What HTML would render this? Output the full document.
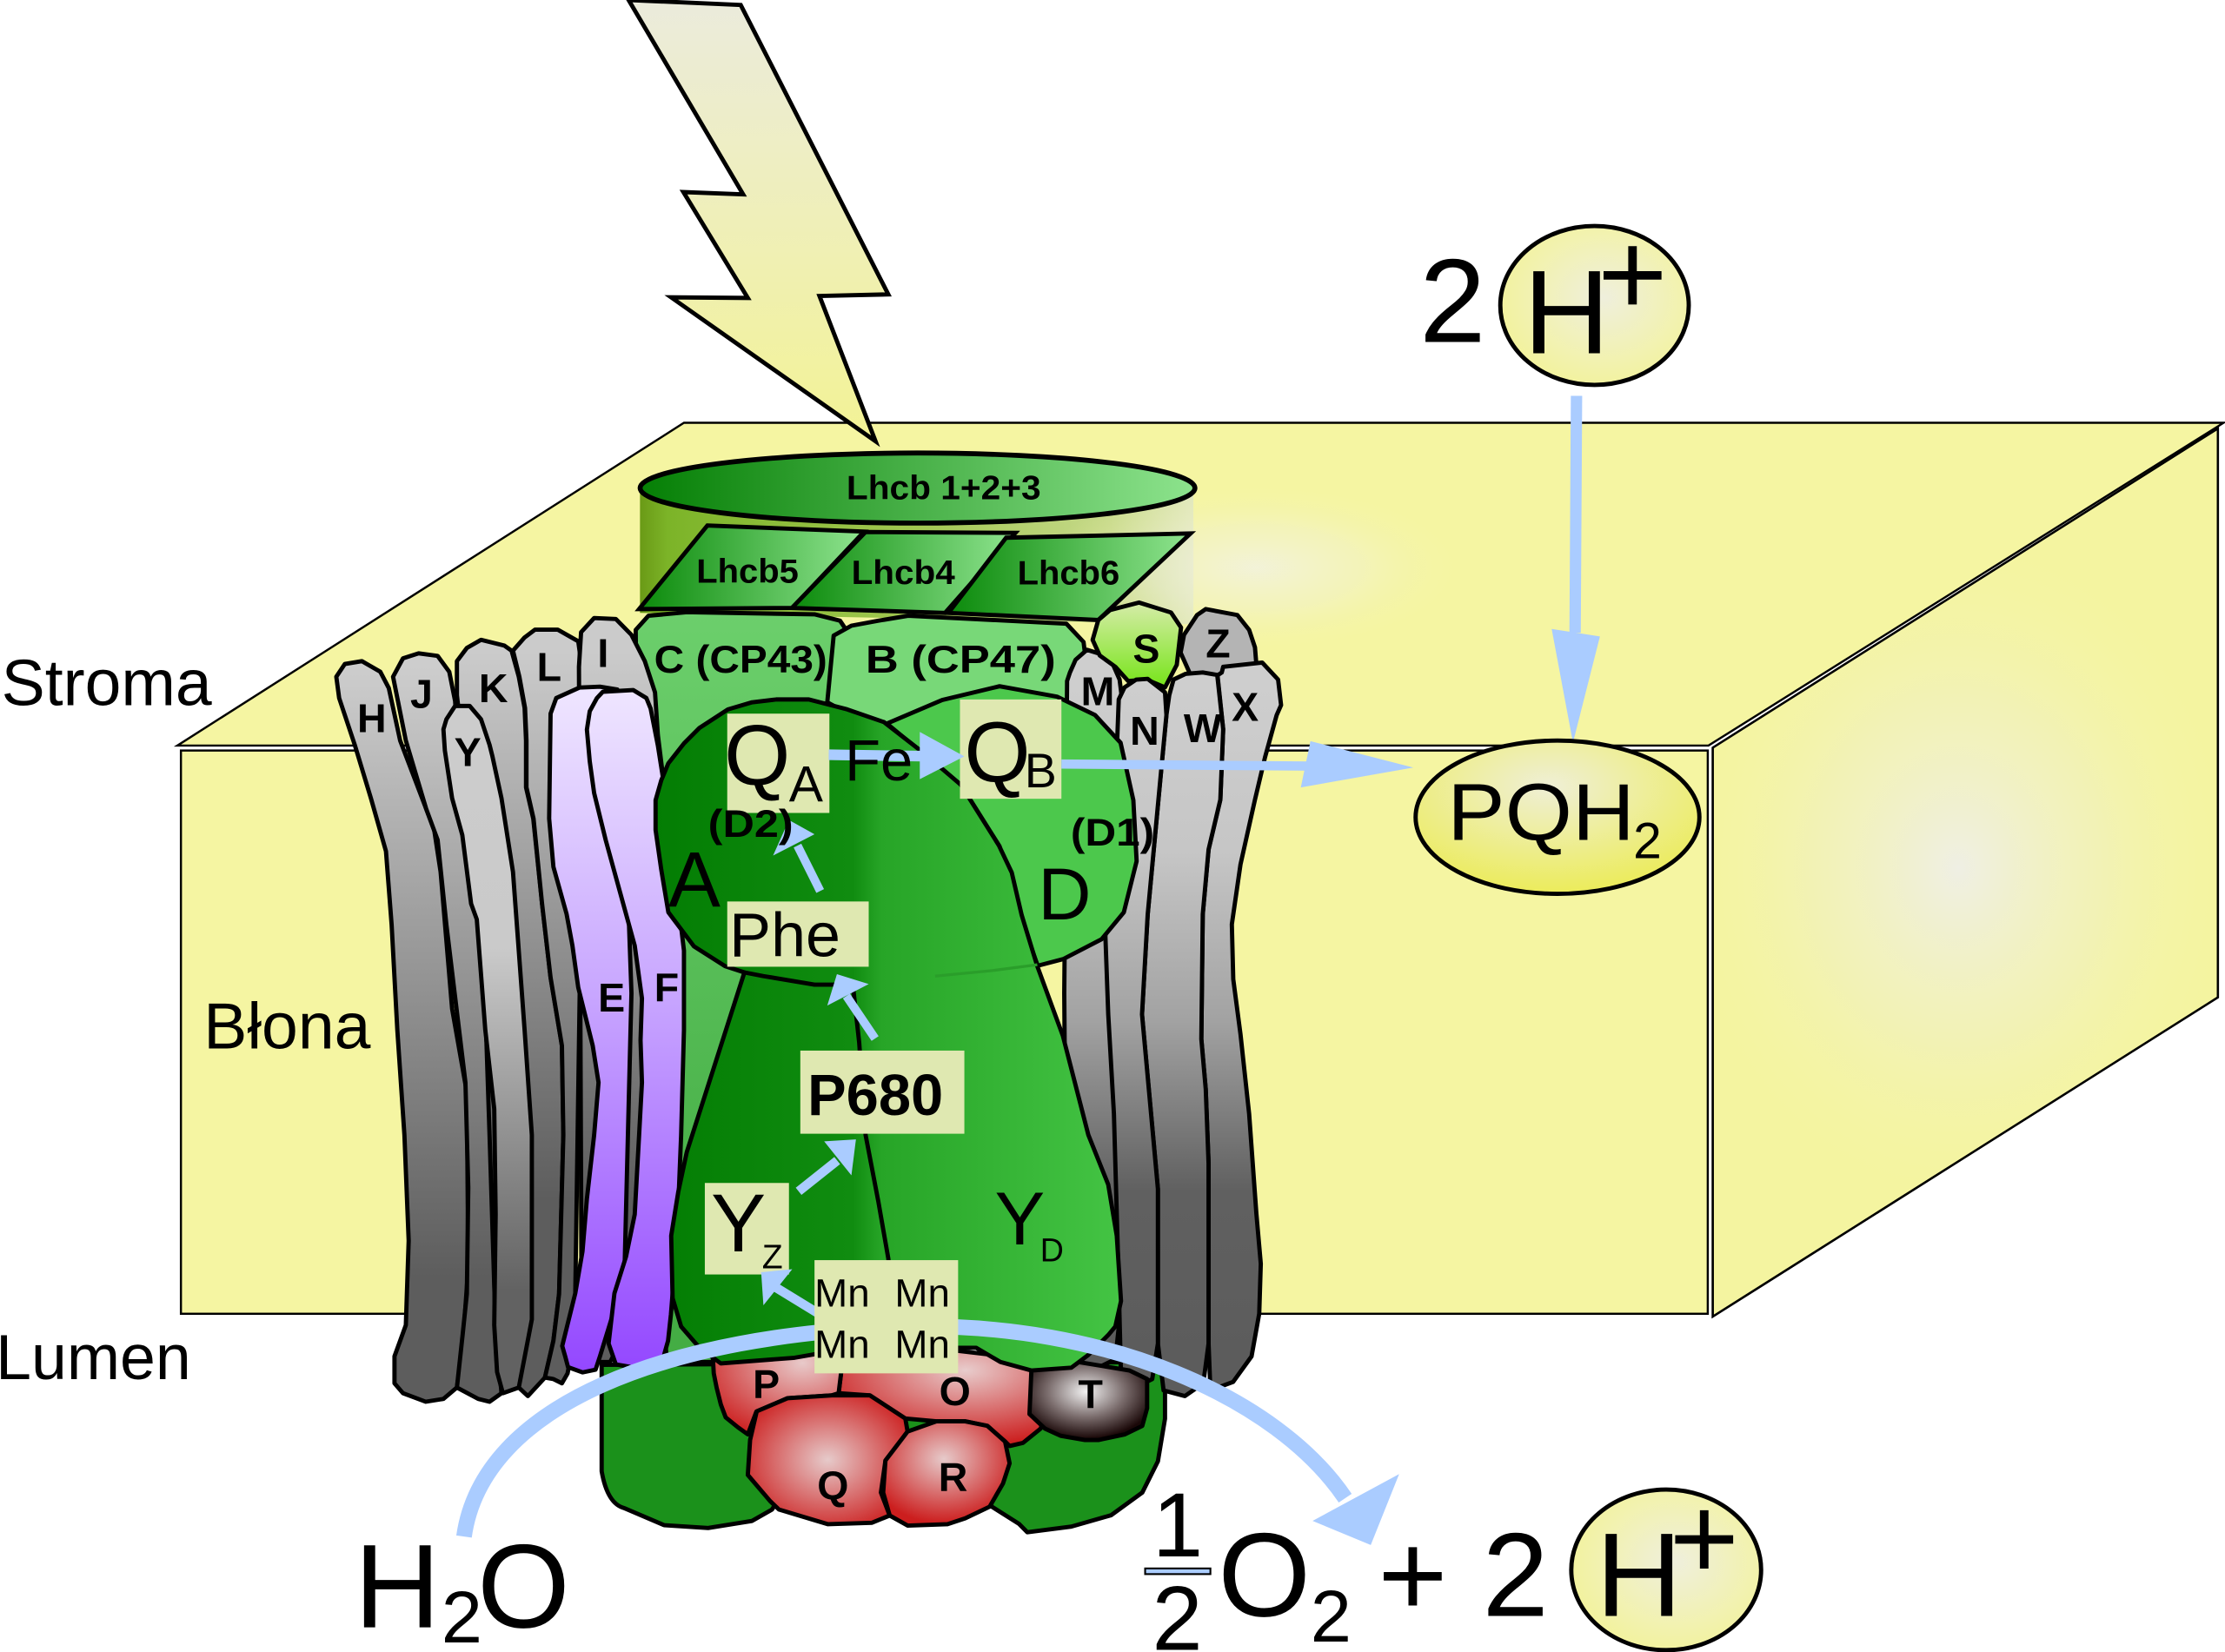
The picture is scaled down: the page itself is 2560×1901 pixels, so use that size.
<!DOCTYPE html>
<html><head><meta charset="utf-8"><style>html,body{margin:0;padding:0;background:#fff;overflow:hidden}svg{display:block}</style></head>
<body>
<svg xmlns="http://www.w3.org/2000/svg" width="2560" height="1901" viewBox="0 0 1568 1164.4" preserveAspectRatio="none" font-family="'Liberation Sans', Arial, sans-serif">
<defs>
<linearGradient id="bolt" x1="0" y1="0" x2="0" y2="1"><stop offset="0" stop-color="#ebebdc"/><stop offset="1" stop-color="#f3f395"/></linearGradient>
<radialGradient id="glowW"><stop offset="0" stop-color="#efefe4" stop-opacity="1"/><stop offset="0.5" stop-color="#f1f1c4" stop-opacity="0.6"/><stop offset="1" stop-color="#f4f4a2" stop-opacity="0"/></radialGradient>
<radialGradient id="haze"><stop offset="0" stop-color="#f2f2e6" stop-opacity="0.8"/><stop offset="0.5" stop-color="#f1f1d4" stop-opacity="0.45"/><stop offset="1" stop-color="#f5f5a2" stop-opacity="0"/></radialGradient>
<linearGradient id="cyl" x1="451" y1="0" x2="841" y2="0" gradientUnits="userSpaceOnUse"><stop offset="0" stop-color="#6a9a16"/><stop offset="0.05" stop-color="#7cb428"/><stop offset="0.5" stop-color="#a2c752"/><stop offset="0.85" stop-color="#c6d98a"/><stop offset="1" stop-color="#e0e7c0"/></linearGradient>
<linearGradient id="ell" x1="0" y1="0" x2="1" y2="0"><stop offset="0" stop-color="#057f05"/><stop offset="1" stop-color="#8de38d"/></linearGradient>
<linearGradient id="para" x1="0" y1="0" x2="1" y2="0"><stop offset="0" stop-color="#0b8a0b"/><stop offset="1" stop-color="#8fe48f"/></linearGradient>
<linearGradient id="gA" x1="0" y1="470" x2="0" y2="900" gradientUnits="userSpaceOnUse"><stop offset="0" stop-color="#cdcdcd"/><stop offset="1" stop-color="#5d5d5d"/></linearGradient>
<linearGradient id="gB" x1="0" y1="460" x2="0" y2="845" gradientUnits="userSpaceOnUse"><stop offset="0" stop-color="#cbcbcb"/><stop offset="1" stop-color="#5d5d5d"/></linearGradient>
<linearGradient id="gY" x1="0" y1="470" x2="0" y2="910" gradientUnits="userSpaceOnUse"><stop offset="0" stop-color="#cdcdcd"/><stop offset="0.45" stop-color="#cacaca"/><stop offset="1" stop-color="#626262"/></linearGradient>
<linearGradient id="gR" x1="0" y1="480" x2="0" y2="960" gradientUnits="userSpaceOnUse"><stop offset="0" stop-color="#cecece"/><stop offset="0.25" stop-color="#c6c6c6"/><stop offset="0.5" stop-color="#a2a2a2"/><stop offset="0.75" stop-color="#606060"/><stop offset="1" stop-color="#5c5c5c"/></linearGradient>
<linearGradient id="purp" x1="0" y1="485" x2="0" y2="965" gradientUnits="userSpaceOnUse"><stop offset="0" stop-color="#efe6ff"/><stop offset="0.45" stop-color="#c8a6ff"/><stop offset="1" stop-color="#9448ff"/></linearGradient>
<linearGradient id="sG" x1="0" y1="425" x2="0" y2="487" gradientUnits="userSpaceOnUse"><stop offset="0" stop-color="#d6eca8"/><stop offset="1" stop-color="#72e412"/></linearGradient>
<linearGradient id="cG" x1="0" y1="430" x2="0" y2="900" gradientUnits="userSpaceOnUse"><stop offset="0" stop-color="#6ccf6c"/><stop offset="1" stop-color="#44ad44"/></linearGradient>
<linearGradient id="core" x1="462" y1="0" x2="801" y2="0" gradientUnits="userSpaceOnUse"><stop offset="0" stop-color="#037d03"/><stop offset="0.41" stop-color="#108c10"/><stop offset="0.47" stop-color="#27a527"/><stop offset="1" stop-color="#46c646"/></linearGradient>
<radialGradient id="rP" cx="0.7" cy="0.2" r="0.9"><stop offset="0" stop-color="#e8caca"/><stop offset="1" stop-color="#cc1e1e"/></radialGradient>
<radialGradient id="rO" cx="0.6" cy="0.25" r="0.75"><stop offset="0" stop-color="#e8cccc"/><stop offset="1" stop-color="#cc1e1e"/></radialGradient>
<radialGradient id="rQ" cx="0.5" cy="0.5" r="0.6"><stop offset="0" stop-color="#e6caca"/><stop offset="1" stop-color="#cc1e1e"/></radialGradient>
<radialGradient id="rR" cx="0.48" cy="0.36" r="0.62"><stop offset="0" stop-color="#e6caca"/><stop offset="1" stop-color="#cc1e1e"/></radialGradient>
<radialGradient id="rT" cx="0.48" cy="0.38" r="0.6"><stop offset="0" stop-color="#f2f2f2"/><stop offset="0.55" stop-color="#7a6c6c"/><stop offset="1" stop-color="#1a0808"/></radialGradient>
<radialGradient id="pq" cx="0.47" cy="0.3" r="0.7"><stop offset="0" stop-color="#efefd6"/><stop offset="1" stop-color="#ecec5a"/></radialGradient>
<radialGradient id="hp" cx="0.55" cy="0.45" r="0.6"><stop offset="0" stop-color="#efefdc"/><stop offset="1" stop-color="#f3f39a"/></radialGradient>
<clipPath id="rf"><polygon points="1207,527 1563,302 1563,703 1207,928"/></clipPath>
</defs>
<rect x="0" y="0" width="1568" height="1165" fill="#fff"/>

<!-- membrane box -->
<polygon points="125,525.5 482,298 1567,298 1204,525.5" fill="#f5f5a2" stroke="#000" stroke-width="1.5"/>
<polygon points="1207,527 1563,302 1563,703 1207,928" fill="#f4f4a0" stroke="#000" stroke-width="1.5"/>
<ellipse cx="1380" cy="612" rx="200" ry="240" fill="url(#glowW)" clip-path="url(#rf)"/>
<polygon points="1207,527 1563,302 1563,703 1207,928" fill="none" stroke="#000" stroke-width="1.5"/>
<rect x="127.5" y="529" width="1076" height="397" fill="#f5f5a2" stroke="#000" stroke-width="1.5"/>

<!-- lightning -->
<polygon points="443,0 523.7,137 481.6,135.4 527,210 473,209.6 617,311 577.5,208.6 626,207.5 522,3.5" fill="url(#bolt)" stroke="#000" stroke-width="3" stroke-linejoin="miter"/>

<!-- Lhcb cylinder body -->
<polygon points="451,344 451,432 841,440 841,344" fill="url(#cyl)"/>
<ellipse cx="885" cy="400" rx="150" ry="60" fill="url(#haze)"/>

<!-- C (CP43) and B (CP47) -->
<path d="M448,444 L457,434 L484,431.5 L574,433 L592,437.5 L599,448 L603,500 L605,700 L600,960 L470,960 L450,700 Z" fill="url(#cG)" stroke="#000" stroke-width="3" stroke-linejoin="round"/>
<path d="M583,495 L587.5,448 L600,441 L619,437.5 L640,434 L751.5,439.6 L763.6,452.5 L767,480 L768,520 L700,520 L620,515 Z" fill="#78d878" stroke="#000" stroke-width="3" stroke-linejoin="round"/>

<!-- lumen green -->
<path d="M424,962 L424,1037 Q428,1060 440,1063 L468,1075 L499,1077 L530,1072 L544,1064 L560,1040 L690,1040 L699,1062 L718,1074 L724,1080 L755,1076 L783,1068 L805,1052 L816,1030 L821,1000 L821,960 Z" fill="#1b911b" stroke="#000" stroke-width="3" stroke-linejoin="round"/>

<!-- left helices -->
<g stroke="#000" stroke-width="3" stroke-linejoin="round">
<path d="M237,477 L243,468 L255,466 L268,473.5 L274,485 L282,522 L306,585 L310.5,614.5 L318.6,711 L329,770 L330,893 L326,949 L322,978 L312.5,986 L300,988 L284,982 L278,975 L278,956 L286,934 L288,874.5 L285,800 L280,726 L276,652 L272,600 L261.5,563 L250,525 L239,492 Z" fill="url(#gA)"/>
<path d="M277,477 L284,464 L295,460.5 L308.4,462.3 L316.6,473.5 L320.7,494 L327,585 L337,652 L345,763 L349,930 L353.4,982 L345,988 L337,986 L322,978 L326,941 L329,912 L330,837 L328,763 L314.6,652 L308.4,592 L300.3,570 L286,522 Z" fill="url(#gA)"/>
<path d="M322,466 L329,456.7 L339,451 L355.4,455 L360.5,458.6 L365.6,477 L369.7,499 L370.7,522 L370.7,555 L375.8,577 L382,637 L388,689 L396,737 L397,800 L394,912 L390,945 L384,971 L372,984 L365.6,978 L355,980 L350,960 L345,800 L340,650 L330,560 L322,490 Z" fill="url(#gB)"/>
<path d="M361.5,458.6 L369.7,449.3 L377,443.8 L393,443.8 L407.5,452 L410,470 L410,600 L405,940 L400,968 L396,975 L390,972 L384,971 L390,945 L394,912 L397,800 L396,737 L388,689 L382,637 L376,577 L371,555 L371,522 L370,499 L366,477 Z" fill="url(#gB)"/>
<path d="M409.5,445.6 L418.7,435.6 L434,436.3 L445,447.5 L454.4,466 L461.6,488 L463.6,518 L467.7,551 L470,700 L460,900 L430,960 L410,960 L408,470 Z" fill="url(#gB)"/>
<path d="M312.5,514 L314.6,507 L320.7,497.6 L331,497.6 L339,507 L345,525 L347,533 L353.4,562.6 L361.5,614.5 L369.7,726 L374.8,800 L374.8,930 L365.6,978 L354.4,982 L350.3,967 L348.3,934 L349.3,856 L348.3,781.6 L342,726 L336,648 L332,637 L325.8,588.6 L318.6,562.6 L313.5,529 Z" fill="url(#gY)"/>
<path d="M388,503 L392,492 L408.5,484.6 L422.8,484 L435,486 L440,560 L445,700 L440,900 L422.8,956 L419.7,965.4 L410.5,967.3 L400.3,963.6 L398.3,956 L396.2,948.7 L405.4,911.6 L410.5,882 L413.6,845 L418.7,800 L421.8,763 L417.7,737 L407.5,696 L403.4,666.5 L399.3,644.3 L390,611 L387,577 Z" fill="url(#purp)"/>
<path d="M413.6,514.3 L415.6,501.3 L420.7,492 L424.8,487.6 L446.3,486.4 L455.5,492 L458.5,499.4 L463.6,525.4 L467.7,551.4 L482,670 L482,726 L480,800 L477,874.5 L472.8,926.5 L470.8,945 L467.7,956 L459.5,963.6 L445.2,963.6 L434,961.7 L428.9,947 L433,911.6 L441.2,885.6 L447.3,856 L450.4,800 L452.4,763 L451.4,733.4 L452.4,703.7 L447.3,666.5 L437.1,629.4 L426.9,592.3 L418.7,559 L415.6,536.6 Z" fill="url(#purp)"/>
</g>

<!-- right helices -->
<g stroke="#000" stroke-width="3" stroke-linejoin="round">
<path d="M754,474 L758,465 L766,458 L782,463 L789,479 L791,495 L790,560 L780,660 L783,715 L787,785 L790,890 L789,930 L786,958 L770,966 L752,960 L750,700 L752,480 Z" fill="url(#gR)"/>
<path d="M770,451 L774,437 L782.3,430 L802.7,424.7 L825.2,431.7 L832.3,442.3 L829.3,468.6 L821,484.5 L808,479 L795,480 L786,470 L775,462 Z" fill="url(#sG)"/>
<path d="M834.4,447.5 L843.6,433.5 L849.7,429.3 L872,433.5 L880.3,444 L884.4,456.3 L885.4,468.6 L870,475 L840,478 L832,460 Z" fill="#b4b4b4"/>
<path d="M858,476 L861,474 L862,470 L889.5,467 L900.7,479 L902.8,497 L899.7,504 L891.5,533.7 L884.4,563.6 L874.2,609.3 L868.1,651.5 L869.1,690.2 L874.2,729 L880.3,785.2 L885.4,855.5 L888.5,890.7 L887.4,925.9 L882,956 L869,974 L853,980 L851.7,947 L851.7,820 L849.7,767.6 L846.6,732.4 L847.6,644.5 L851.7,598.8 L860,563.6 L862,514 Z" fill="url(#gR)"/>
<path d="M824,490 L827,479 L835.4,475 L847.6,474 L857.8,475.7 L862,514 L860,563.6 L851.7,598.8 L847.6,644.5 L846.6,732.4 L849.7,767.6 L851.7,820 L851.7,947 L848,975 L835,984 L820,980 L816,947 L816,838 L804.8,715 L808.8,644.5 L819,535.5 L822,504 Z" fill="url(#gR)"/>
<path d="M788.4,493 L792.5,484.5 L800.7,479 L808.8,478.5 L821,488 L822,504 L819,535.5 L808.8,644.5 L804.8,715 L816,838 L816,947 L812,972 L800,978 L790,970 L788,890 L785,785 L781,715 L779,660 L785,600 L787,530 Z" fill="url(#gR)"/>
</g>

<!-- T, O, P -->
<g stroke="#000" stroke-width="3" stroke-linejoin="round">
<path d="M592,950 L592.7,968 L591,982 L613,983.5 L638,999.8 L660,1001.8 L680,1001.8 L695.8,1005 L708.3,1016 L711.5,1019.2 L720.9,1017 L733.3,1007 L740,990 L738,966 L700,955 L640,948 Z" fill="url(#rO)"/>
<path d="M502,950 L503,968 L505,978 L508,990 L511.4,999 L520,1006 L527,1011 L533,995 L555,985.5 L586,983.5 L591,982 L592.7,968 L592,950 L540,948 Z" fill="url(#rP)"/>
<path d="M727,962 L725.5,996.7 L736.5,1007 L747.4,1012 L764.6,1015 L774,1015 L792.7,1011 L805,1005 L808.4,992.6 L808.4,972 L796,966 L760,960 Z" fill="url(#rT)"/>
</g>

<!-- D1 upper blob -->
<path d="M625,510 L664,493.4 L704.4,483.7 L744.8,491 L771.7,504 L789.7,523.5 L798.7,564 L801,607 L792,643 L776.3,662 L749.3,676 L731.3,680.7 L718,643 L704.4,596.5 L677.4,553.5 Z" fill="#4cc84c" stroke="#000" stroke-width="3" stroke-linejoin="round"/>
<!-- core D2/D1 -->
<path d="M493,513 L513,500 L530,495 L547,493 L570,493 L597,500 L623,509 L650,530 L677,553 L704,596 L713,615 L720,645 L731,681 L749,730 L767,800 L781,835 L787,871 L790,917 L786,935 L781,941 L767,955 L755,964 L727,966 L705,960 L688,950 L600,950 L560,957 L508,961 L493,950 L480,935 L474,915 L473,871 L478,840 L484,812 L524.6,685.4 L511,681 L489,667 L471,643 L466,613 L462,585 L462,564 L466,550 L471,538 L482,524 Z" fill="url(#core)" stroke="#000" stroke-width="3" stroke-linejoin="round"/>
<path d="M659,688 L700,684 L731,680" fill="none" stroke="#2a9e2a" stroke-width="2"/>
<path d="M524.6,685.4 L538,688 L574,694 L601,694 L605.5,735 L610,800 L619,847 L626,887 L630,930" fill="none" stroke="#000" stroke-width="3" stroke-linejoin="round"/>

<!-- Q, R -->
<g stroke="#000" stroke-width="3" stroke-linejoin="round">
<path d="M533.3,994.7 L555.2,985.5 L586.4,983.5 L613,983.5 L638,999.8 L639.6,1009 L624,1029.4 L620.8,1052 L627,1068.2 L614.5,1073.3 L583.3,1074.3 L549,1064 L542.7,1058 L527,1039.6 L528.6,1015 Z" fill="url(#rQ)"/>
<path d="M639.6,1009 L659.9,1001.8 L680.2,1001.8 L695.8,1005 L708.3,1016.1 L711.5,1031.4 L706.8,1045.7 L697.4,1062 L680.2,1070.2 L667.7,1074.3 L639.6,1075.3 L627,1068.2 L622.4,1052 L624,1029.4 Z" fill="url(#rR)"/>
</g>

<!-- Lhcb -->
<g stroke="#000" stroke-width="3" stroke-linejoin="miter">
<ellipse cx="646.6" cy="344" rx="195.5" ry="24.7" fill="url(#ell)" stroke-width="3.5"/>
<polygon points="498.5,370.4 609,374.7 558.3,428.5 450.4,429.3" fill="url(#para)"/>
<polygon points="610,375 715.6,375.6 666,432 558,428.5" fill="url(#para)"/>
<polygon points="709,379 839,376 774,437 668.4,432" fill="url(#para)"/>
</g>

<!-- label boxes -->
<g fill="#dfe8b1">
<rect x="512.5" y="503" width="72" height="70"/>
<rect x="676.5" y="493" width="71.5" height="70"/>
<rect x="512.5" y="635.4" width="99.7" height="46"/>
<rect x="564" y="740.5" width="115.6" height="58.6"/>
<rect x="496.7" y="833.8" width="59.3" height="64.5"/>
</g>

<!-- blue arrows -->
<g fill="#aaccff" stroke="none">
<line x1="584" y1="532" x2="652" y2="533" stroke="#aaccff" stroke-width="7.5"/>
<polygon points="648.2,515.9 648.2,549.2 679.6,533.1"/>
<line x1="748" y1="538.5" x2="925" y2="540" stroke="#aaccff" stroke-width="6.5"/>
<polygon points="923.5,522.4 916.7,555 996,541"/>
<line x1="1111" y1="279" x2="1110" y2="446" stroke="#aaccff" stroke-width="8"/>
<polygon points="1093.5,443.3 1127.5,448.6 1108.5,523.5"/>
<line x1="578" y1="628" x2="562" y2="596" stroke="#aaccff" stroke-width="6"/>
<polygon points="544.8,603 574,588 556,578"/>
<line x1="616.7" y1="732" x2="596.5" y2="702" stroke="#aaccff" stroke-width="6"/>
<polygon points="583,708.8 612.2,693.6 589.8,686.6"/>
<line x1="562.8" y1="839.7" x2="590" y2="818" stroke="#aaccff" stroke-width="6.5"/>
<polygon points="580.8,804.5 600,828.4 603.2,803.1"/>
<line x1="577" y1="926" x2="546" y2="907" stroke="#aaccff" stroke-width="6.5"/>
<polygon points="538,920 558.3,894.6 536.4,896.7"/>
</g>

<!-- big curved arrow -->
<path d="M327,1083 C340,990 470,940 640,935 C780,932 900,985 948,1056" fill="none" stroke="#aaccff" stroke-width="11"/>
<polygon points="925,1072 986,1039 966,1089" fill="#aaccff"/>

<!-- Mn box -->
<rect x="574" y="888.2" width="101.2" height="79.8" fill="#dfe8b1"/>
<g font-size="28" fill="#000">
<text x="574" y="921">Mn</text><text x="630.5" y="921">Mn</text>
<text x="574" y="957">Mn</text><text x="630.5" y="957">Mn</text>
</g>

<!-- ellipses for products -->
<ellipse cx="1097.6" cy="576" rx="100" ry="54" fill="url(#pq)" stroke="#000" stroke-width="3"/>
<ellipse cx="1123.7" cy="215.3" rx="66.4" ry="56" fill="url(#hp)" stroke="#000" stroke-width="3"/>
<ellipse cx="1174.2" cy="1106.5" rx="66.9" ry="56.6" fill="url(#hp)" stroke="#000" stroke-width="3"/>

<!-- texts -->
<g fill="#000">
<text x="1" y="497" font-size="46">Stroma</text>
<text x="143.5" y="739" font-size="46">Błona</text>
<text x="-3" y="972" font-size="45">Lumen</text>

<g font-weight="bold">
<text x="665" y="352" font-size="24" text-anchor="middle" textLength="137" lengthAdjust="spacingAndGlyphs">Lhcb 1+2+3</text>
<text x="526.8" y="410.6" font-size="24" text-anchor="middle" textLength="72" lengthAdjust="spacingAndGlyphs">Lhcb5</text>
<text x="636.5" y="411.7" font-size="24" text-anchor="middle" textLength="73" lengthAdjust="spacingAndGlyphs">Lhcb4</text>
<text x="753" y="412" font-size="24" text-anchor="middle" textLength="72" lengthAdjust="spacingAndGlyphs">Lhcb6</text>
<text x="522" y="474" font-size="27" text-anchor="middle" textLength="122" lengthAdjust="spacingAndGlyphs">C (CP43)</text>
<text x="677" y="474" font-size="27" text-anchor="middle" textLength="134" lengthAdjust="spacingAndGlyphs">B (CP47)</text>
<text x="529" y="590" font-size="27" text-anchor="middle" textLength="60" lengthAdjust="spacingAndGlyphs">(D2)</text>
<text x="784" y="596" font-size="27" text-anchor="middle" textLength="59" lengthAdjust="spacingAndGlyphs">(D1)</text>
<text x="569" y="786" font-size="41">P680</text>
</g>

<g font-weight="bold" font-size="28.5" text-anchor="middle">
<text x="262" y="516">H</text>
<text x="297" y="499">J</text>
<text x="347.7" y="495">K</text>
<text x="387" y="480">L</text>
<text x="425" y="470">I</text>
<text x="329.6" y="540">Y</text>
<text x="431" y="713">E</text>
<text x="469.8" y="705.5">F</text>
<text x="773.6" y="497">M</text>
<text x="806.6" y="525">N</text>
<text x="847.6" y="523">W</text>
<text x="877.5" y="508">X</text>
<text x="807.8" y="467">S</text>
<text x="858.4" y="463.4">Z</text>
<text x="540" y="985.5">P</text>
<text x="673" y="990.5">O</text>
<text x="587" y="1057">Q</text>
<text x="671.6" y="1050.8">R</text>
<text x="768.5" y="992.6">T</text>
</g>

<text x="510.3" y="553" font-size="60">Q</text>
<text x="556" y="565" font-size="36">A</text>
<text x="595.4" y="550" font-size="41">Fe</text>
<text x="679.5" y="551" font-size="60">Q</text>
<text x="722" y="555" font-size="34">B</text>
<text x="471" y="639" font-size="55">A</text>
<text x="731.5" y="648" font-size="52">D</text>
<text x="514" y="674" font-size="44">Phe</text>
<text x="501" y="882" font-size="58">Y</text>
<text x="537" y="894" font-size="24">Z</text>
<text x="701" y="877" font-size="53">Y</text>
<text x="733" y="889" font-size="23">D</text>

<text x="1020" y="592" font-size="57" textLength="132" lengthAdjust="spacingAndGlyphs">PQH</text>
<text x="1151" y="605" font-size="36">2</text>

<g text-anchor="middle">
<text x="1023.7" y="241" font-size="84">2</text>
<text x="1104" y="249" font-size="84">H</text>
<text x="1150.5" y="222" font-size="84">+</text>

<text x="280" y="1147" font-size="84">H</text>
<text x="325.5" y="1157.6" font-size="52">2</text>
<text x="369" y="1147" font-size="84">O</text>

<text x="830" y="1097" font-size="64">1</text>
<text x="829.7" y="1163" font-size="64">2</text>
<text x="891" y="1139" font-size="84">O</text>
<text x="938" y="1157" font-size="52">2</text>
<text x="995.6" y="1139" font-size="84">+</text>
<text x="1068" y="1139" font-size="84">2</text>
<text x="1155" y="1139" font-size="84">H</text>
<text x="1201" y="1113" font-size="84">+</text>
</g>
</g>
<rect x="807" y="1105.5" width="46" height="4" fill="#aaccff" stroke="#000" stroke-width="1.3"/>
</svg>
</body></html>
